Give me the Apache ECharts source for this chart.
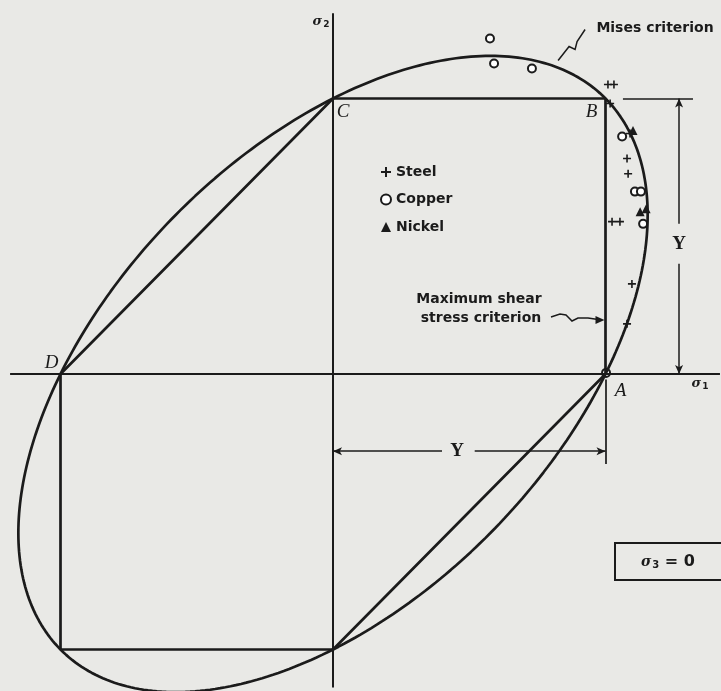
<!DOCTYPE html>
<html>
<head>
<meta charset="utf-8">
<script src="https://cdn.jsdelivr.net/npm/echarts@6/dist/echarts.min.js"></script>
<style>
  html, body { margin: 0; padding: 0; background: #e9e9e6; }
  #chart { width: 721px; height: 691px; }
</style>
</head>
<body>
<div id="chart"></div>
<script>
// Yield stress (unit of the plot) and stress-space window
const Y = 1;
const xRange = [-1.22202, 1.42385];
const yRange = [-1.15064, 1.35753];

// Maximum shear stress (Tresca) hexagon vertices: A, B, C, D, (-Y,-Y), (0,-Y), back to A
const trescaHexagon = [[Y, 0], [Y, Y], [0, Y], [-Y, 0], [-Y, -Y], [0, -Y], [Y, 0]];

// Corner labels of the hexagon
const cornerNames = ['A', 'B', 'C', 'D'];
const cornerPoints = [[Y, 0], [Y, Y], [0, Y], [-Y, 0]];

// Biaxial test results (sigma1/Y, sigma2/Y)
const steelPoints = [
  [1.009, 1.051], [1.031, 1.051], [1.017, 0.982], [1.090, 0.873],
  [1.079, 0.782], [1.083, 0.727], [1.024, 0.553], [1.053, 0.553],
  [1.097, 0.327], [1.079, 0.182]
];
const copperPoints = [
  [0.576, 1.218], [0.591, 1.127], [0.730, 1.109], [1.061, 0.862],
  [1.108, 0.662], [1.130, 0.662], [1.138, 0.545], [1.002, 0.004]
];
const nickelPoints = [[1.127, 0.589], [1.149, 0.600], [1.101, 0.884]];

// Von Mises ellipse: s1^2 - s1*s2 + s2^2 = Y^2
function misesEllipse(n) {
  const pts = [];
  for (let i = 0; i <= n; i++) {
    const t = 2 * Math.PI * i / n;
    const u = Math.SQRT2 * Y * Math.cos(t);
    const v = Math.sqrt(2 / 3) * Y * Math.sin(t);
    pts.push([(u + v) / Math.SQRT2, (u - v) / Math.SQRT2]);
  }
  return pts;
}

const ink = '#1b1b1b';
const sans = 'DejaVu Sans';
const serif = 'Liberation Serif';
const plusPath = 'path://M4,0H6V4H10V6H6V10H4V6H0V4H4Z';

const chart = echarts.init(document.getElementById('chart'), null, { renderer: 'canvas' });

function seg(a, b) { return [{ coord: a }, { coord: b }]; }

chart.setOption({
  backgroundColor: '#e9e9e6',
  animation: false,
  grid: { left: 0, top: 0, width: 721, height: 691 },
  xAxis: { type: 'value', min: xRange[0], max: xRange[1], show: false },
  yAxis: { type: 'value', min: yRange[0], max: yRange[1], show: false },
  legend: {
    orient: 'vertical', left: 375, top: 160, itemGap: 13.5,
    itemWidth: 10, itemHeight: 10,
    data: ['Steel', 'Copper', 'Nickel'],
    textStyle: { fontFamily: sans, fontWeight: 'bold', fontSize: 14, color: ink },
    selectedMode: false
  },
  series: [
    { // stress axes
      type: 'line', silent: true, symbol: 'none',
      lineStyle: { color: ink, width: 2 },
      data: [[-1.185, 0], [1.42, 0], null, [0, -1.138], [0, 1.309]],
      connectNulls: false
    },
    { // Tresca hexagon
      type: 'line', silent: true, symbol: 'none',
      lineStyle: { color: ink, width: 2.7 },
      data: trescaHexagon
    },
    { // Mises ellipse
      type: 'line', silent: true, symbol: 'none', smooth: false,
      lineStyle: { color: ink, width: 2.7 },
      data: misesEllipse(360)
    },
    { // dimension lines for Y
      type: 'line', silent: true, symbol: 'none', data: [],
      markLine: {
        silent: true, animation: false,
        symbol: ['none', 'arrow'], symbolSize: [6, 9],
        label: { show: false },
        lineStyle: { color: ink, width: 1.5, type: 'solid' },
        data: [
          seg([1.270, 0.545], [1.270, Y]),
          seg([1.270, 0.40], [1.270, 0]),
          seg([0.40, -0.28], [0, -0.28]),
          seg([0.52, -0.28], [Y, -0.28])
        ]
      }
    },
    { // extension lines
      type: 'line', silent: true, symbol: 'none', data: [],
      markLine: {
        silent: true, animation: false, symbol: ['none', 'none'],
        label: { show: false },
        lineStyle: { color: ink, width: 1.7, type: 'solid' },
        data: [seg([1.064, Y], [1.321, Y]), seg([Y, -0.02], [Y, -0.327])]
      }
    },
    { // corner letters
      type: 'scatter', silent: true, symbolSize: 0,
      itemStyle: { opacity: 1 },
      data: cornerPoints.map((p, i) => ({ value: p, name: cornerNames[i] })),
      label: {
        show: true, formatter: '{b}',
        fontFamily: serif, fontStyle: 'italic', fontSize: 19, color: ink,
        position: 'inside'
      },
      labelLayout: function (params) {
        const offs = { A: [15, 17], B: [-14, 14], C: [10, 14], D: [-9, -11] };
        const o = offs[params.text] || [0, 0];
        return { x: params.rect.x + params.rect.width / 2 + o[0], y: params.rect.y + params.rect.height / 2 + o[1], align: 'center', verticalAlign: 'middle' };
      }
    },
    {
      name: 'Steel', type: 'scatter', symbol: plusPath, symbolSize: 8,
      itemStyle: { color: ink, opacity: 1 }, data: steelPoints
    },
    {
      name: 'Copper', type: 'scatter', symbol: 'emptyCircle', symbolSize: 8,
      itemStyle: { color: ink, borderColor: ink, borderWidth: 1.7, opacity: 1 }, data: copperPoints
    },
    {
      name: 'Nickel', type: 'scatter', symbol: 'triangle', symbolSize: 9,
      itemStyle: { color: ink, opacity: 1 }, data: nickelPoints
    }
  ]
});

// Annotation texts and leaders placed relative to the stress coordinates
function px(p) { return chart.convertToPixel({ gridIndex: 0 }, p); }
const sigmaRich = {
  s: { fontFamily: 'DejaVu Serif', fontStyle: 'italic', fontWeight: 'bold', fontSize: 13, fill: ink },
  sub: { fontFamily: 'DejaVu Sans', fontWeight: 'bold', fontSize: 9, fill: ink, verticalAlign: 'bottom', padding: [6, 0, 0, 1] }
};
const pA = px([Y, 0]), pO = px([0, 0]);
const pMis = px([0.826, 1.138]);

chart.setOption({
  graphic: [
    { type: 'text', x: pO[0] - 12, y: 22, style: { rich: sigmaRich, text: '{s|σ}{sub|2}', align: 'center', verticalAlign: 'middle' } },
    { type: 'text', x: 700, y: pO[1] + 10, style: { rich: sigmaRich, text: '{s|σ}{sub|1}', align: 'center', verticalAlign: 'middle' } },
    { type: 'text', x: 655, y: 28, style: { text: 'Mises criterion', font: 'bold 14px "DejaVu Sans"', fill: ink, align: 'center', verticalAlign: 'middle' } },
    { type: 'polyline', shape: { points: [pMis, [pMis[0] + 11, pMis[1] - 14], [pMis[0] + 17, pMis[1] - 11], [pMis[0] + 19, pMis[1] - 19], [pMis[0] + 27, pMis[1] - 31]] }, style: { stroke: ink, lineWidth: 1.5, fill: null } },
    { type: 'text', x: 479, y: 299, style: { text: 'Maximum shear', font: 'bold 14px "DejaVu Sans"', fill: ink, align: 'center', verticalAlign: 'middle' } },
    { type: 'text', x: 481, y: 318, style: { text: 'stress criterion', font: 'bold 14px "DejaVu Sans"', fill: ink, align: 'center', verticalAlign: 'middle' } },
    { type: 'polyline', shape: { points: [[551, 317], [560, 314], [566, 315], [572, 321], [578, 318], [588, 318], [pA[0] - 4, 320]] }, style: { stroke: ink, lineWidth: 1.5, fill: null } },
    { type: 'polygon', shape: { points: [[pA[0] - 1, 320], [pA[0] - 10, 316], [pA[0] - 10, 324]] }, style: { fill: ink } },
    { type: 'text', x: px([1.270, 0.473])[0], y: px([1.270, 0.473])[1], style: { text: 'Y', font: 'bold 19px "Liberation Serif"', fill: ink, align: 'center', verticalAlign: 'middle' } },
    { type: 'text', x: px([0.455, -0.28])[0], y: px([0.455, -0.28])[1], style: { text: 'Y', font: 'bold 19px "Liberation Serif"', fill: ink, align: 'center', verticalAlign: 'middle' } },
    { type: 'rect', shape: { x: 615, y: 543, width: 130, height: 37 }, style: { stroke: ink, lineWidth: 2, fill: null } },
    { type: 'text', x: 668, y: 562, style: { rich: { s: { fontFamily: 'DejaVu Serif', fontStyle: 'italic', fontWeight: 'bold', fontSize: 14, fill: ink }, sub: { fontFamily: 'DejaVu Sans', fontWeight: 'bold', fontSize: 10, fill: ink, padding: [7, 0, 0, 1] }, t: { fontFamily: 'DejaVu Sans', fontWeight: 'bold', fontSize: 16, fill: ink } }, text: '{s|σ}{sub|3}{t| = 0}', align: 'center', verticalAlign: 'middle' } }
  ]
});
</script>
</body>
</html>
